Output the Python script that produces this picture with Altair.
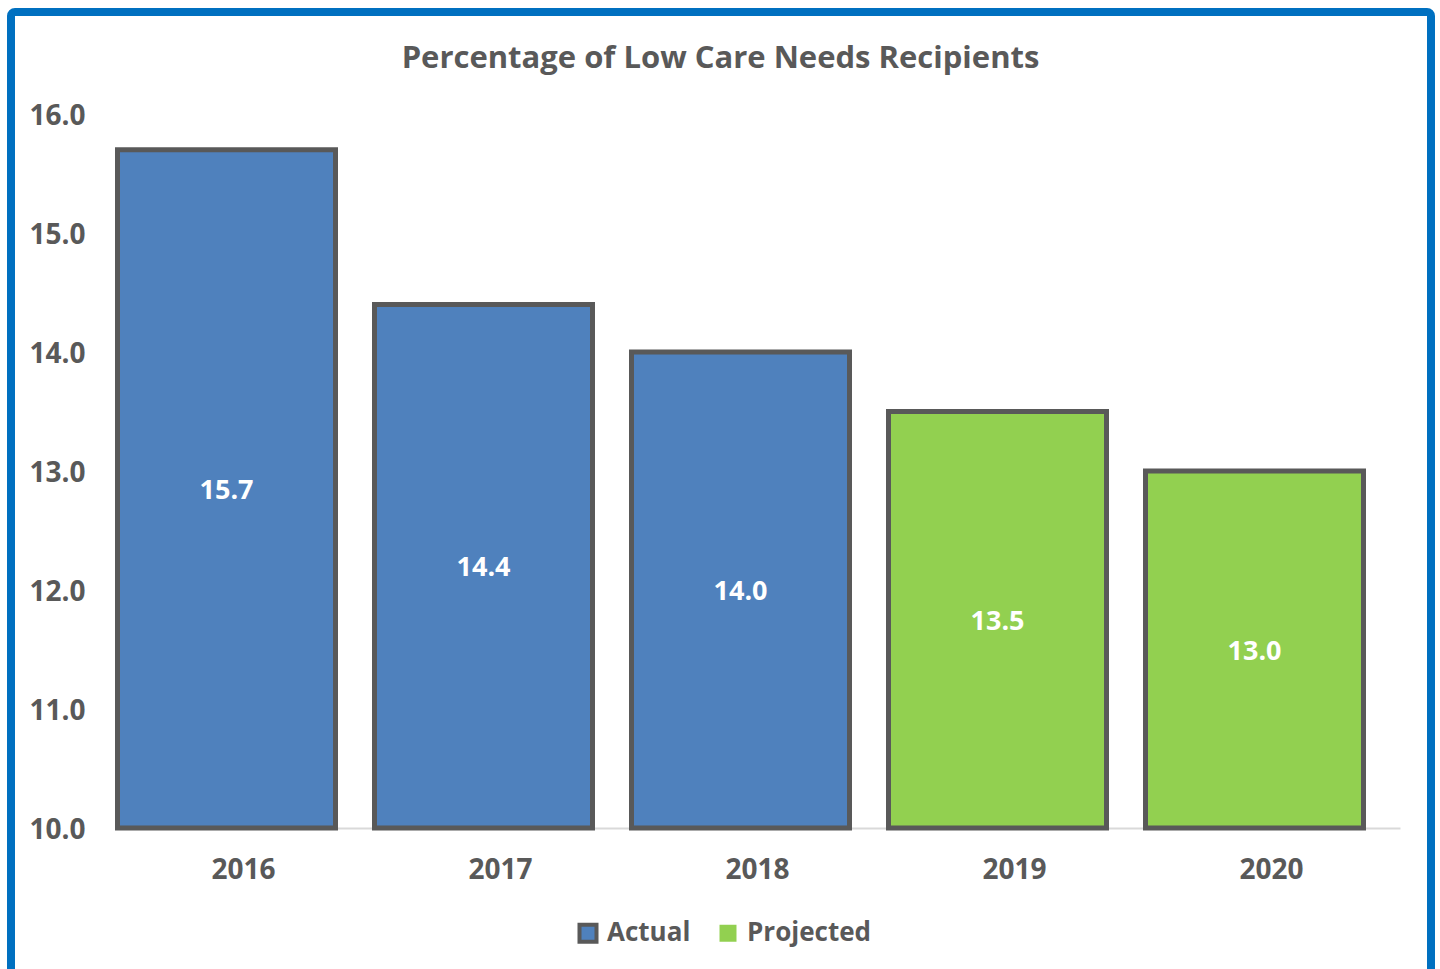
import altair as alt
import pandas as pd

years = ["2016", "2017", "2018", "2019", "2020"]
values = [15.7, 14.4, 14.0, 13.5, 13.0]
kinds = ["Actual", "Actual", "Actual", "Projected", "Projected"]

df = pd.DataFrame({"year": years, "value": values, "kind": kinds})
frame_df = pd.DataFrame({"a": [0]})

FONT = "Open Sans"
GREY = "#595959"

x_enc = alt.X("year:N", title=None, sort=years,
              scale=alt.Scale(paddingInner=0, paddingOuter=0),
              axis=alt.Axis(labelAngle=0, ticks=False, domainColor="#D9D9D9", domainWidth=2,
                            labelPadding=28, labelFontSize=28, labelFont=FONT,
                            labelFontWeight="bold", labelColor=GREY))
y_axis = alt.Axis(values=[10, 11, 12, 13, 14, 15, 16], format=".1f", grid=False,
                  domain=False, ticks=False, labelPadding=30, labelFontSize=28, labelOffset=2,
                  labelFont=FONT, labelFontWeight="bold", labelColor=GREY)
y_scale = alt.Scale(domain=[10, 16], zero=False, nice=False)
y_enc = alt.Y("value:Q", title=None, scale=y_scale, axis=y_axis)

base = alt.Chart(df)

fill_bars = base.mark_bar(width=218, xOffset=-17).encode(
    x=x_enc,
    y=y_enc,
    y2=alt.datum(10),
    color=alt.Color("kind:N", title=None,
                    scale=alt.Scale(domain=["Actual", "Projected"], range=["#4F81BD", "#92D050"]),
                    legend=alt.Legend(orient="none", legendX=460, legendY=806, direction="horizontal",
                                      symbolType="square", symbolSize=289, padding=0,
                                      symbolStrokeWidth=4,
                                      symbolStrokeColor=alt.ExprRef(expr="datum.value === 'Actual' ? '#595959' : 'rgba(0,0,0,0)'"),
                                      symbolOpacity=1,
                                      labelFont=FONT, labelFontSize=26, labelFontWeight="bold",
                                      labelColor=GREY, labelOffset=6, columnPadding=20)),
)

stroke_bars = base.mark_bar(width=218, xOffset=-17, filled=False, stroke=GREY, strokeWidth=5).encode(
    x=x_enc,
    y=y_enc,
    y2=alt.datum(10),
)

labels = base.transform_calculate(mid="(datum.value + 10) / 2").mark_text(
    xOffset=-17, dy=2, color="white", font=FONT, fontSize=27, fontWeight="bold"
).encode(
    x=x_enc,
    y=alt.Y("mid:Q", title=None, scale=y_scale, axis=y_axis),
    text=alt.Text("value:Q", format=".1f"),
)

frame = alt.Chart(frame_df).mark_rect(
    fill="transparent", stroke="#0070C0", strokeWidth=8, cornerRadius=4, clip=False
).encode(
    x=alt.value(-104), x2=alt.value(1316), y=alt.value(-102), y2=alt.value(900)
)

chart = alt.layer(fill_bars, stroke_bars, labels, frame).properties(
    width=1285,
    height=714,
    padding={"left": 115, "top": 114, "right": 40, "bottom": 141},
    autosize=alt.AutoSizeParams(type="none"),
    background="white",
    title=alt.TitleParams("Percentage of Low Care Needs Recipients", font=FONT, fontSize=31,
                          fontWeight="bold", color=GREY, anchor="middle", dx=-37, offset=-67,
                          frame="group"),
).configure_view(stroke=None)

chart.save("out.html", embed_options={"renderer": "svg", "actions": False})
